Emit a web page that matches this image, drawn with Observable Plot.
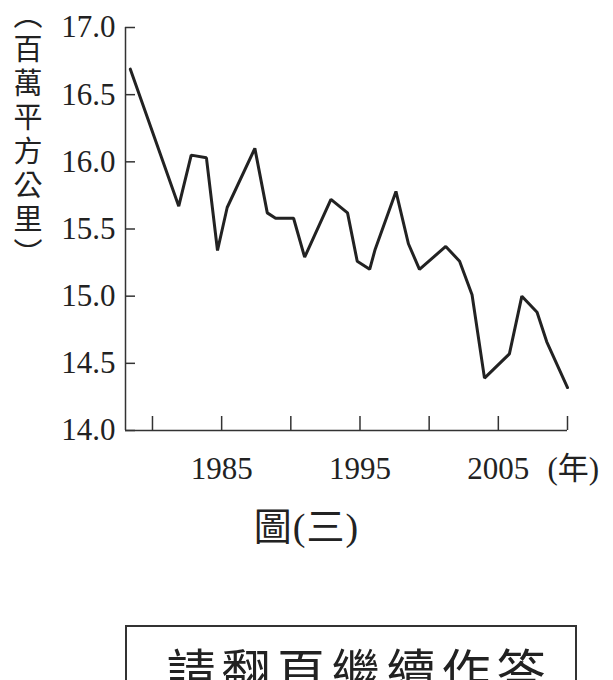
<!DOCTYPE html>
<html><head><meta charset="utf-8">
<script src="https://cdn.jsdelivr.net/npm/d3@7"></script>
<script src="https://cdn.jsdelivr.net/npm/@observablehq/plot@0.6"></script>
<style>
body{margin:0;background:#fff;}
#wrap{position:relative;width:613px;height:680px;overflow:hidden;background:#fff;}
#chart{position:absolute;left:0;top:0;}
#chart svg text{font-family:"Liberation Serif","Times New Roman",Tinos,"DejaVu Serif",serif,"Noto Sans CJK TC";}
#ylab{position:absolute;left:13px;top:0px;writing-mode:vertical-rl;font-family:"Noto Sans CJK TC",sans-serif;font-size:29px;line-height:30px;letter-spacing:5px;color:#222;white-space:nowrap;}
#caption{position:absolute;left:0;width:613px;top:508px;text-align:center;font-family:"Liberation Serif","Times New Roman",Tinos,"DejaVu Serif",serif,"Noto Sans CJK TC";font-size:38px;line-height:1;color:#222;letter-spacing:1px;}
#box{position:absolute;left:125px;top:625px;width:452px;height:120px;border:2px solid #333;box-sizing:border-box;}
#boxtext{position:absolute;left:0;width:100%;top:17px;text-align:center;font-family:"Noto Sans CJK TC",sans-serif;font-size:49px;line-height:1;letter-spacing:6px;color:#222;padding-left:16px;box-sizing:border-box;}
</style>
</head><body>
<div id="wrap">
  <div id="chart"></div>
  <div id="ylab"></div>
  <div id="caption">圖(三)</div>
  <div id="box"><div id="boxtext">請翻頁繼續作答</div></div>
</div>
<script>
// Data (x positions of the hand-drawn line, in years)
const years = [1978.4, 1981.9, 1982.8, 1983.9, 1984.7, 1985.4, 1987.4, 1988.3, 1988.9, 1990.2,
               1991.0, 1992.9, 1994.1, 1994.8, 1995.7, 1996.1, 1997.6, 1998.5, 1999.3, 2001.2,
               2002.2, 2003.1, 2004.0, 2005.8, 2006.7, 2007.8, 2008.5, 2010.0];
const extent = [16.69, 15.67, 16.05, 16.03, 15.34, 15.66, 16.10, 15.62, 15.58, 15.58,
                15.29, 15.72, 15.62, 15.26, 15.20, 15.35, 15.78, 15.39, 15.20, 15.37,
                15.26, 15.01, 14.39, 14.57, 15.00, 14.88, 14.66, 14.32];
const xDomain = [1978.05, 2010];
const yDomain = [14, 17];
const xTicks = [1980, 1985, 1990, 1995, 2000, 2005, 2010];
const xTickLabels = [1985, 1995, 2005];
const yTicks = [14, 14.5, 15, 15.5, 16, 16.5, 17];
const yLabel = "（百萬平方公里）";
const xUnit = "(年)";

const data = years.map((y, i) => ({year: y, extent: extent[i]}));

const chart = Plot.plot({
  width: 613,
  height: 500,
  marginLeft: 125,
  marginRight: 46,
  marginTop: 27,
  marginBottom: 70,
  x: {domain: xDomain},
  y: {domain: yDomain},
  style: {fontSize: "31px", color: "#222", background: "white", overflow: "visible"},
  marks: [
    Plot.ruleX([xDomain[0]], {stroke: "#333", strokeWidth: 1.5}),
    Plot.ruleY([yDomain[0]], {stroke: "#333", strokeWidth: 1.5}),
    Plot.axisY(yTicks, {tickSize: -10, tickPadding: 20, tickFormat: d3.format(".1f"), label: null, stroke: "#333", strokeWidth: 1.5, fill: "#222", fontSize: 31}),
    Plot.axisX(xTicks, {tickSize: -14, tickPadding: 40, tickFormat: d => xTickLabels.includes(d) ? String(d) : "", label: null, stroke: "#333", strokeWidth: 1.5, fill: "#222", fontSize: 31}),
    Plot.line(data, {x: "year", y: "extent", stroke: "#222", strokeWidth: 3, strokeLinejoin: "miter"}),
    Plot.text([xUnit], {text: d => d, frameAnchor: "bottom-right", dx: -20, dy: 26, textAnchor: "start", lineAnchor: "top", fontSize: 31, fill: "#222"})
  ]
});
document.getElementById("chart").appendChild(chart);
document.getElementById("ylab").textContent = yLabel;
</script>
</body></html>
